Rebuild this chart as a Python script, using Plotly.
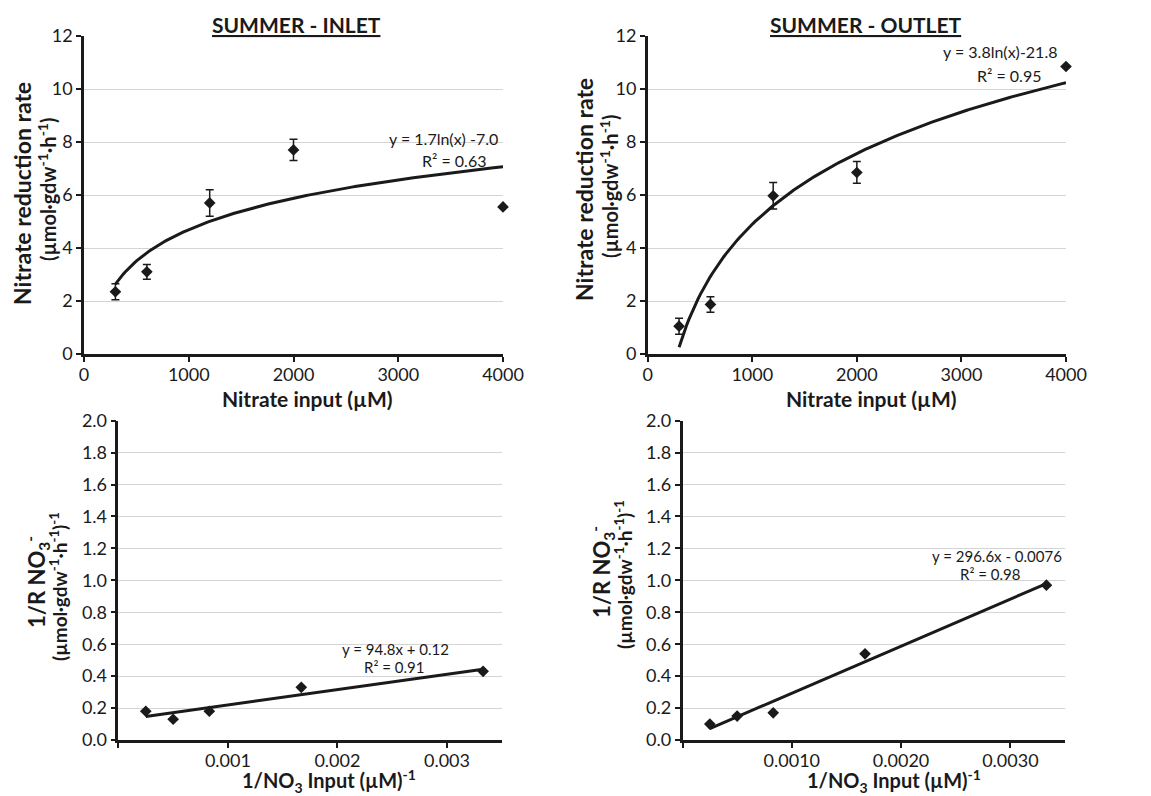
import numpy as np
import plotly.graph_objects as go

# Nitrate input concentrations (µM) and measured reduction rates
nitrate_input = [300, 600, 1200, 2000, 4000]
inlet_rate = [2.35, 3.10, 5.70, 7.70, 5.55]
inlet_err = [0.30, 0.28, 0.50, 0.40, None]
outlet_rate = [1.05, 1.87, 5.97, 6.85, 10.85]
outlet_err = [0.30, 0.29, 0.50, 0.41, None]

# Lineweaver-Burk transformed values
inv_input = [0.00025, 0.0005, 0.00083, 0.00167, 0.00333]
inlet_inv_rate = [0.18, 0.13, 0.18, 0.33, 0.43]
outlet_inv_rate = [0.10, 0.15, 0.17, 0.54, 0.97]

# Trendline labels
inlet_log_eq = ["y = 1.7ln(x) -7.0", "R² = 0.63"]
outlet_log_eq = ["y = 3.8ln(x)-21.8", "R² = 0.95"]
inlet_lin_eq = ["y = 94.8x + 0.12", "R² = 0.91"]
outlet_lin_eq = ["y = 296.6x - 0.0076", "R² = 0.98"]

W, H = 1151, 796
FONT = "Lato, 'Open Sans', sans-serif"
INK = "#1a1a1a"


def px(x):
    return x / W


def py(y):
    return 1 - y / H


fig = go.Figure()

# panel domains (x0, x1, ytop, ybottom) in pixels
panels = {
    1: (84, 503, 36, 354),
    2: (647.7, 1066, 36, 354),
    3: (118.4, 501.7, 420.7, 740),
    4: (682.5, 1065, 420.7, 740),
}


def axis_names(i):
    return ("x" if i == 1 else f"x{i}", "y" if i == 1 else f"y{i}")


def add_points(i, xs, ys, err=None):
    xa, ya = axis_names(i)
    kw = {}
    if err is not None:
        kw["error_y"] = dict(type="data", array=err, visible=True,
                             color=INK, thickness=1.5, width=4)
    fig.add_trace(go.Scatter(
        x=xs, y=ys, mode="markers", xaxis=xa, yaxis=ya,
        marker=dict(symbol="diamond", size=9, color=INK),
        cliponaxis=False, showlegend=False, **kw))


def add_log_fit(i, xs, ys):
    xa, ya = axis_names(i)
    a, b = np.polyfit(np.log(xs), ys, 1)
    xf = np.linspace(min(xs), max(xs), 200)
    fig.add_trace(go.Scatter(
        x=xf, y=a * np.log(xf) + b, mode="lines", xaxis=xa, yaxis=ya,
        line=dict(color=INK, width=3), cliponaxis=False, showlegend=False))


def add_lin_fit(i, xs, ys):
    xa, ya = axis_names(i)
    a, b = np.polyfit(xs, ys, 1)
    xf = np.array([min(xs), max(xs)])
    fig.add_trace(go.Scatter(
        x=xf, y=a * xf + b, mode="lines", xaxis=xa, yaxis=ya,
        line=dict(color=INK, width=3), cliponaxis=False, showlegend=False))


# fitted curves first so the markers sit on top
add_log_fit(1, nitrate_input, inlet_rate)
add_log_fit(2, nitrate_input, outlet_rate)
add_lin_fit(3, inv_input, inlet_inv_rate)
add_lin_fit(4, inv_input, outlet_inv_rate)

add_points(1, nitrate_input, inlet_rate, inlet_err)
add_points(2, nitrate_input, outlet_rate, outlet_err)
add_points(3, inv_input, inlet_inv_rate)
add_points(4, inv_input, outlet_inv_rate)

layout = dict(
    template="none",
    width=W, height=H, margin=dict(l=0, r=0, t=0, b=0, pad=0),
    paper_bgcolor="white", plot_bgcolor="white",
    font=dict(family=FONT, color=INK, size=16),
    showlegend=False,
)

TICKFONT = dict(size=18, family=FONT, color=INK)
common_x = dict(showline=True, linecolor=INK, linewidth=2.5, showgrid=False,
                ticks="outside", ticklen=5, tickwidth=2, tickcolor=INK,
                ticklabelstandoff=-2,
                zeroline=False, automargin=False, tickfont=TICKFONT)
common_y = dict(showline=True, linecolor=INK, linewidth=2.5, showgrid=True,
                gridcolor="#d4d4d4", gridwidth=1,
                ticks="outside", ticklen=5, tickwidth=2, tickcolor=INK,
                zeroline=False, automargin=False, tickfont=TICKFONT)

for i, (x0, x1, yt, yb) in panels.items():
    xa, ya = axis_names(i)
    xkey = "xaxis" if i == 1 else f"xaxis{i}"
    ykey = "yaxis" if i == 1 else f"yaxis{i}"
    xd = dict(common_x, domain=[px(x0), px(x1)], anchor=ya)
    yd = dict(common_y, domain=[py(yb), py(yt)], anchor=xa)
    if i in (1, 2):
        xd.update(range=[0, 4000], tickvals=[0, 1000, 2000, 3000, 4000])
        yd.update(range=[0, 12], tickvals=list(range(0, 13, 2)))
    else:
        labels = ["0.001", "0.002", "0.003"] if i == 3 else ["0.0010", "0.0020", "0.0030"]
        xd.update(range=[0, 0.0035], tickvals=[0, 0.001, 0.002, 0.003],
                  ticktext=[""] + labels)
        yv = [round(0.2 * k, 1) for k in range(11)]
        yd.update(range=[0, 2.0], tickvals=yv, ticktext=[f"{v:.1f}" for v in yv])
    layout[xkey] = xd
    layout[ykey] = yd

fig.update_layout(**layout)

ann = []


def label(text, x, y, size=16, bold=False, angle=0):
    ann.append(dict(text=f"<b>{text}</b>" if bold else text,
                    x=px(x), y=py(y), xref="paper", yref="paper",
                    xanchor="center", yanchor="middle", showarrow=False,
                    textangle=angle, font=dict(size=size, family=FONT, color=INK)))


# panel titles
label("<u>SUMMER - INLET</u>", 296, 25, size=21, bold=True)
label("<u>SUMMER - OUTLET</u>", 866, 25, size=21, bold=True)

# axis titles
rate_units = "(µmol·gdw<sup>-1</sup>·h<sup>-1</sup>)"
label("Nitrate reduction rate", 22, 194, size=23, bold=True, angle=-90)
label(rate_units, 47, 190, size=20, bold=True, angle=-90)
label("Nitrate reduction rate", 584, 190, size=23, bold=True, angle=-90)
label(rate_units, 609, 187, size=20, bold=True, angle=-90)
label("Nitrate input (µM)", 307, 398, size=21, bold=True)
label("Nitrate input (µM)", 871, 398, size=21, bold=True)

inv_line1 = "1/R NO<sub>3</sub><sup>-</sup>"
inv_line2 = "(µmol·gdw<sup>-1</sup>·h<sup>-1</sup>)<sup>-1</sup>"
label(inv_line1, 37, 582, size=22, bold=True, angle=-90)
label(inv_line2, 58, 587, size=19, bold=True, angle=-90)
label(inv_line1, 602, 572, size=22, bold=True, angle=-90)
label(inv_line2, 623, 575, size=19, bold=True, angle=-90)
label("1/NO<sub>3</sub> Input (µM)<sup>-1</sup>", 329, 781, size=20, bold=True)
label("1/NO<sub>3</sub> Input (µM)<sup>-1</sup>", 894, 781, size=20, bold=True)

# trendline equations
label(inlet_log_eq[0], 443, 138)
label(inlet_log_eq[1], 454, 161)
label(outlet_log_eq[0], 1000, 52)
label(outlet_log_eq[1], 1009, 75)
label(inlet_lin_eq[0], 395, 649, size=15)
label(inlet_lin_eq[1], 394, 667, size=15)
label(outlet_lin_eq[0], 997, 556, size=15)
label(outlet_lin_eq[1], 990, 574, size=15)

fig.update_layout(annotations=ann)
fig.write_html("out.html")
